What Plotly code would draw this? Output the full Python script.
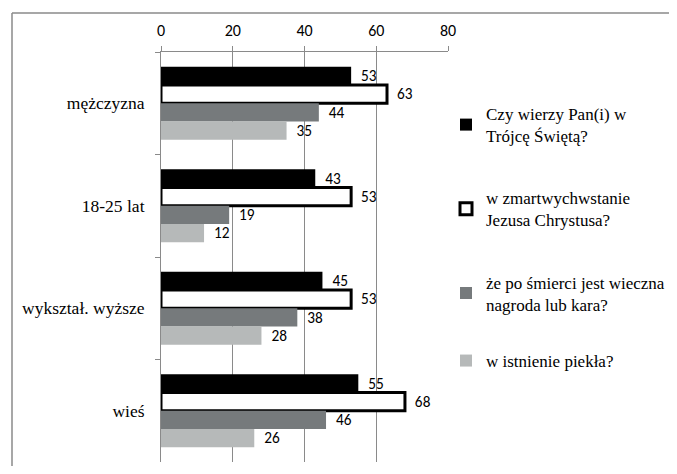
import plotly.graph_objects as go

categories = ["mężczyzna", "18-25 lat", "wykształ. wyższe", "wieś"]
series_names = [
    "Czy wierzy Pan(i) w<br>Trójcę Świętą?",
    "w zmartwychwstanie<br>Jezusa Chrystusa?",
    "że po śmierci jest wieczna<br>nagroda lub kara?",
    "w istnienie piekła?",
]
trojca = [53, 43, 45, 55]
zmartwychwstanie = [63, 53, 53, 68]
nagroda = [44, 19, 38, 46]
pieklo = [35, 12, 28, 26]
x_ticks = [0, 20, 40, 60, 80]

values = [trojca, zmartwychwstanie, nagroda, pieklo]
fills = ["#000000", "#ffffff", "#767a7c", "#b6b9b9"]
line_w = [0, 3, 0, 0]
legends = ["legend", "legend", "legend", "legend2"]

SERIF = "Times New Roman, Liberation Serif, serif"
SANS = "Carlito, Calibri, Liberation Sans, Arial, sans-serif"

fig = go.Figure()
for i, (name, vals) in enumerate(zip(series_names, values)):
    fig.add_trace(go.Bar(
        y=categories, x=vals, name=name, orientation="h",
        marker=dict(color=fills[i], line=dict(color="#000000", width=line_w[i])),
        text=["\u00a0\u00a0" + str(v) for v in vals], textposition="outside",
        textfont=dict(family=SANS, size=16, color="#000000"),
        cliponaxis=False, legendgroup=str(i), legend=legends[i],
    ))

# page offset (body margin) compensation
OFF = 8
L, R, T, B = 161 - OFF, 448 - OFF, 52 - OFF, 462 - OFF
W, H = 677 - 2 * OFF, 474 - 2 * OFF
def px(x):
    return (x - OFF - L) / (R - L)
def py(y):
    return (B - (y - OFF)) / (B - T)

grid = "#8a8a8a"
legend_font = dict(family=SERIF, size=17, color="#000000")
fig.update_layout(
    width=W, height=H,
    margin=dict(l=L, r=W - R, t=T, b=H - B, pad=0, autoexpand=False),
    paper_bgcolor="white", plot_bgcolor="white",
    barmode="group", bargap=0.29, bargroupgap=0,
    showlegend=True,
    legend=dict(x=px(446), y=py(96), xanchor="left", yanchor="top",
                font=legend_font, tracegroupgap=37, itemwidth=30,
                bgcolor="rgba(0,0,0,0)"),
    legend2=dict(x=px(446), y=py(343), xanchor="left", yanchor="top",
                 font=legend_font, itemwidth=30, bgcolor="rgba(0,0,0,0)"),
    xaxis=dict(side="top", range=[0, 80], tickvals=x_ticks,
               showgrid=True, gridcolor=grid, gridwidth=1,
               showline=True, linecolor=grid, linewidth=1,
               ticks="outside", ticklen=5, tickcolor=grid,
               tickfont=dict(family=SANS, size=16, color="#000000"),
               ticklabelstandoff=4,
               zeroline=False, fixedrange=True, automargin=False),
    yaxis=dict(autorange="reversed", type="category",
               showline=True, linecolor=grid, linewidth=1,
               ticks="outside", ticklen=5, tickcolor=grid, tickson="boundaries",
               showgrid=False,
               tickfont=dict(family=SERIF, size=17.5, color="#000000"),
               ticklabelstandoff=12, fixedrange=True, automargin=False),
    shapes=[
        dict(type="line", xref="paper", yref="paper", x0=px(12), x1=px(700), y0=py(13), y1=py(13),
             line=dict(color="#8a8a8a", width=1.5)),
        dict(type="line", xref="paper", yref="paper", x0=px(12), x1=px(12), y0=py(13), y1=py(500),
             line=dict(color="#8a8a8a", width=1.5)),
    ],
)
fig.write_html("out.html")
